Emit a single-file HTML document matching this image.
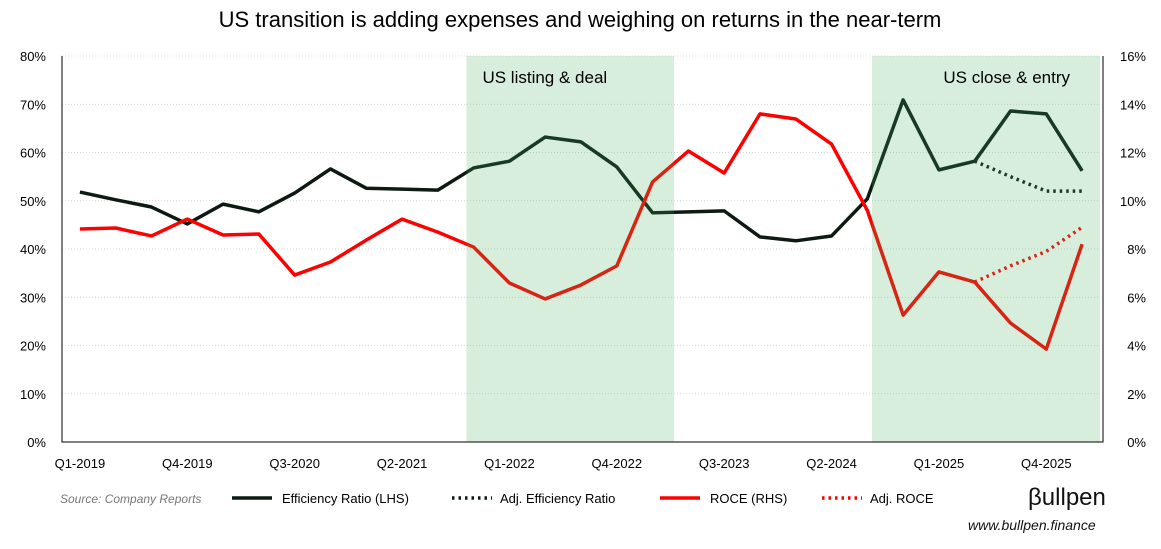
<!DOCTYPE html>
<html><head><meta charset="utf-8"><style>
body{margin:0;background:#fff;font-family:"Liberation Sans",sans-serif;}
svg text{font-family:"Liberation Sans",sans-serif;}
</style></head><body>
<svg id="c" width="1161" height="544" viewBox="0 0 1161 544" xmlns="http://www.w3.org/2000/svg">
<text x="580" y="27" text-anchor="middle" font-size="22" fill="#000">US transition is adding expenses and weighing on returns in the near-term</text>
<g id="grid"></g><g id="lines"></g><g id="shade"></g><g id="axes"></g>
<g>
<text x="60" y="503" font-size="12" font-style="italic" fill="#777">Source: Company Reports</text>
<line x1="232" y1="498" x2="272" y2="498" stroke="#0d1a12" stroke-width="3.5"/>
<text x="282" y="503" font-size="13">Efficiency Ratio (LHS)</text>
<line x1="452" y1="498" x2="492" y2="498" stroke="#0d1a12" stroke-width="3.5" stroke-dasharray="2.5,4"/>
<text x="500" y="503" font-size="13">Adj. Efficiency Ratio</text>
<line x1="660" y1="498" x2="700" y2="498" stroke="#f00" stroke-width="3.5"/>
<text x="710" y="503" font-size="13">ROCE (RHS)</text>
<line x1="822" y1="498" x2="862" y2="498" stroke="#f00" stroke-width="3.5" stroke-dasharray="2.5,4"/>
<text x="870" y="503" font-size="13">Adj. ROCE</text>
</g>
<text x="1028" y="505" font-size="24" fill="#111">βullpen</text>
<text x="968" y="530" font-size="14" font-style="italic" fill="#111">www.bullpen.finance</text>
</svg>
<script>
const categories=["Q1-2019","Q2-2019","Q3-2019","Q4-2019","Q1-2020","Q2-2020","Q3-2020","Q4-2020","Q1-2021","Q2-2021","Q3-2021","Q4-2021","Q1-2022","Q2-2022","Q3-2022","Q4-2022","Q1-2023","Q2-2023","Q3-2023","Q4-2023","Q1-2024","Q2-2024","Q3-2024","Q4-2024","Q1-2025","Q2-2025","Q3-2025","Q4-2025","Q1-2026"];
const efficiency=[51.8,50.2,48.7,45.2,49.3,47.7,51.6,56.6,52.6,52.4,52.2,56.8,58.2,63.2,62.2,57,47.5,47.7,47.9,42.5,41.7,42.7,50.4,70.9,56.4,58.2,68.6,68,56.2];
const adjEfficiency=[null,null,null,null,null,null,null,null,null,null,null,null,null,null,null,null,null,null,null,null,null,null,null,null,null,58.2,55,52,52];
const roce=[8.83,8.87,8.54,9.24,8.58,8.62,6.92,7.46,8.37,9.24,8.7,8.08,6.59,5.93,6.51,7.3,10.78,12.06,11.15,13.6,13.39,12.35,9.6,5.26,7.05,6.63,4.93,3.85,8.2];
const adjRoce=[null,null,null,null,null,null,null,null,null,null,null,null,null,null,null,null,null,null,null,null,null,null,null,null,null,6.63,7.3,7.9,8.9];
const leftTicks=["0%","10%","20%","30%","40%","50%","60%","70%","80%"];
const rightTicks=["0%","2%","4%","6%","8%","10%","12%","14%","16%"];
const shadeRanges=[[11.3,17.1,"US listing & deal"],[22.63,29,"US close & entry"]];
const NS="http://www.w3.org/2000/svg";
const L=62,R=1100,T=56,B=442,bw=(R-L)/categories.length;
const x=i=>L+bw*(i+0.5);
const xb=k=>L+bw*k;
const yL=v=>B-(B-T)*v/80;
const yR=v=>B-(B-T)*v/16;
function mk(t,a,p){const e=document.createElementNS(NS,t);for(const k in a)e.setAttribute(k,a[k]);p.appendChild(e);return e;}
const grid=document.getElementById('grid'),axes=document.getElementById('axes'),lines=document.getElementById('lines'),shade=document.getElementById('shade');
leftTicks.forEach((t,i)=>{const y=B-(B-T)*i/8;
 if(i>0){const g=mk('line',{x1:L,x2:R,y1:y,y2:y,stroke:'#ccc','stroke-width':0.7,'stroke-dasharray':'1,2'},grid);
 }
 const a=mk('text',{x:46,y:y+5,'text-anchor':'end','font-size':13},axes);a.textContent=t;
 
 const b=mk('text',{x:1146,y:y+5,'text-anchor':'end','font-size':13},axes);b.textContent=rightTicks[i];
 });
categories.forEach((c,i)=>{if(i%3==0){const t=mk('text',{x:x(i),y:468,'text-anchor':'middle','font-size':13},axes);t.textContent=c;
 }});
const ax=mk('path',{d:`M${L},${T}V${B}H${R+3}V${T}`,fill:'none',stroke:'#000','stroke-width':1},axes);

function path(arr,f,col,dash,name){let d='';arr.forEach((v,i)=>{if(v==null)return;d+=(d?'L':'M')+x(i)+','+f(v);});
 const p=mk('path',{d,fill:'none',stroke:col,'stroke-width':3.5,'stroke-linejoin':'round'},lines);if(dash)p.setAttribute('stroke-dasharray','2.5,4');
 }
path(efficiency,yL,'#0d1a12',0,'efficiency-line');
path(adjEfficiency,yL,'#0d1a12',1,'adj-efficiency-line');
path(roce,yR,'#ff0000',0,'roce-line');
path(adjRoce,yR,'#ff0000',1,'adj-roce-line');
shadeRanges.forEach(([a,b,lab],j)=>{const x0=xb(a),x1=xb(b);
 const r=mk('rect',{x:x0,y:T,width:x1-x0,height:B-T,fill:'#40b060','fill-opacity':0.21},shade);
 
 const t=mk('text',{x:j==0?x0+16:x1-30,y:83,'text-anchor':j==0?'start':'end','font-size':17},shade);t.textContent=lab;
 });
</script>
</body></html>
